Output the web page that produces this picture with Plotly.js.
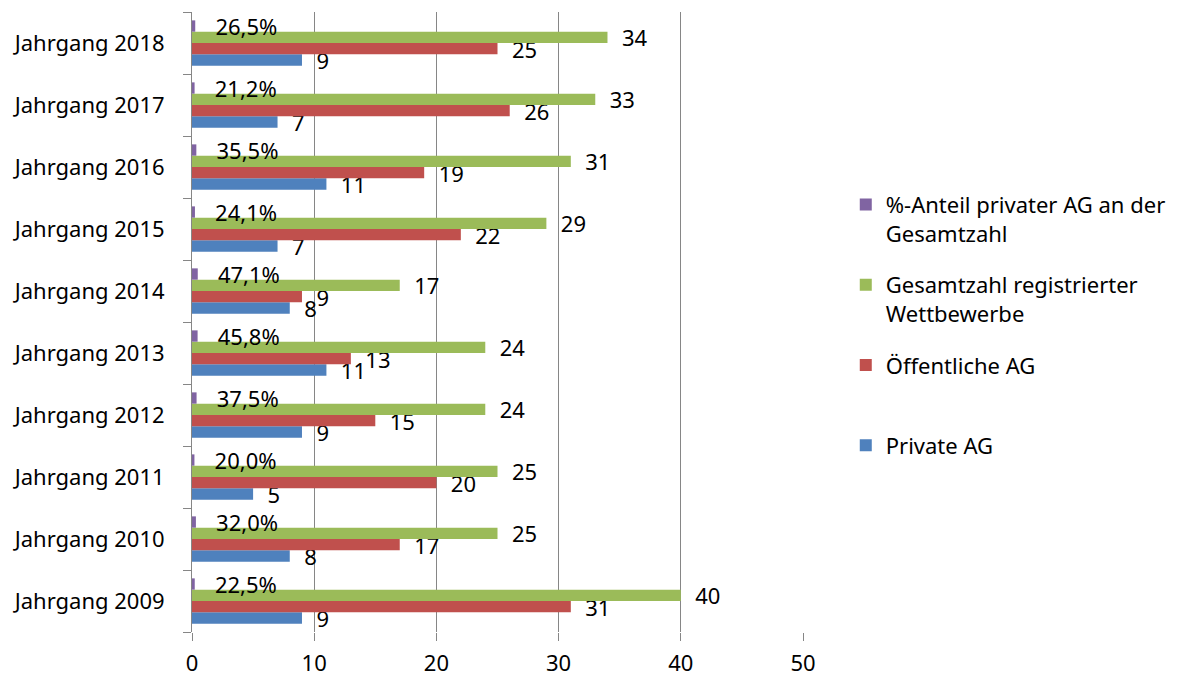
<!DOCTYPE html>
<html><head><meta charset="utf-8">
<script src="https://cdn.plot.ly/plotly-3.0.1.min.js"></script>
<style>html,body{margin:0;padding:0;background:#fff}#chart{width:1185px;height:676px}</style>
</head><body><div id="chart"></div>
<script>
const categories = ['Jahrgang 2009','Jahrgang 2010','Jahrgang 2011','Jahrgang 2012','Jahrgang 2013','Jahrgang 2014','Jahrgang 2015','Jahrgang 2016','Jahrgang 2017','Jahrgang 2018'];
const privateAG = [9,8,5,9,11,8,7,11,7,9];
const oeffentlicheAG = [31,17,20,15,13,9,22,19,26,25];
const gesamtzahl = [40,25,25,24,24,17,29,31,33,34];
const anteilProzent = [22.5,32.0,20.0,37.5,45.8,47.1,24.1,35.5,21.2,26.5];
const seriesNames = ['Private AG','Öffentliche AG<br>\u00a0','Gesamtzahl registrierter<br>Wettbewerbe','%-Anteil privater AG an der<br>Gesamtzahl'];
const seriesColors = ['#4F81BD','#C0504D','#9BBB59','#8064A2'];
const xTicks = [0,10,20,30,40,50];

const pad = '\u00a0\u00a0';
const anteilText = anteilProzent.map(v => v.toFixed(1).replace('.', ',') + '%');
const valueSets = [privateAG, oeffentlicheAG, gesamtzahl, anteilProzent.map(v => v / 100)];

const traces = valueSets.map((vals, i) => ({
  type: 'bar',
  orientation: 'h',
  name: seriesNames[i],
  legendgroup: 'g' + i,
  legendrank: 4 - i,
  y: categories,
  x: vals,
  text: i === 3 ? anteilText : vals.map(String),
  texttemplate: (i === 3 ? pad + '\u00a0' : pad) + '%{text}',
  textposition: 'outside',
  constraintext: 'none',
  cliponaxis: false,
  textfont: {size: 22, color: '#000'},
  marker: {color: seriesColors[i], line: {width: 0}},
  hoverinfo: 'skip'
}));

const layout = {
  width: 1185, height: 676,
  margin: {l: 192, r: 382, t: 12, b: 44},
  barmode: 'group', bargap: 0.27, bargroupgap: 0,
  font: {family: 'Noto Sans, sans-serif', size: 22, color: '#000'},
  xaxis: {range: [0, 50], tickvals: xTicks, showgrid: true, gridcolor: '#868686', gridwidth: 1,
          zeroline: false, showline: false, ticks: 'outside', ticklen: 8, tickcolor: '#868686',
          ticklabelstandoff: 4, fixedrange: true},
  yaxis: {type: 'category', categoryorder: 'array', categoryarray: categories, showline: true,
          linecolor: '#868686', linewidth: 1, ticks: 'outside', tickson: 'boundaries', ticklen: 8,
          tickcolor: '#868686', showgrid: false, ticklabelstandoff: 22, fixedrange: true},
  legend: {x: 1.070, xanchor: 'left', y: 0.723, yanchor: 'top', traceorder: 'grouped',
           tracegroupgap: 20, valign: 'top', font: {size: 22}},
  showlegend: true, plot_bgcolor: '#fff', paper_bgcolor: '#fff'
};

Plotly.newPlot('chart', traces, layout, {displayModeBar: false, staticPlot: true});
</script></body></html>
